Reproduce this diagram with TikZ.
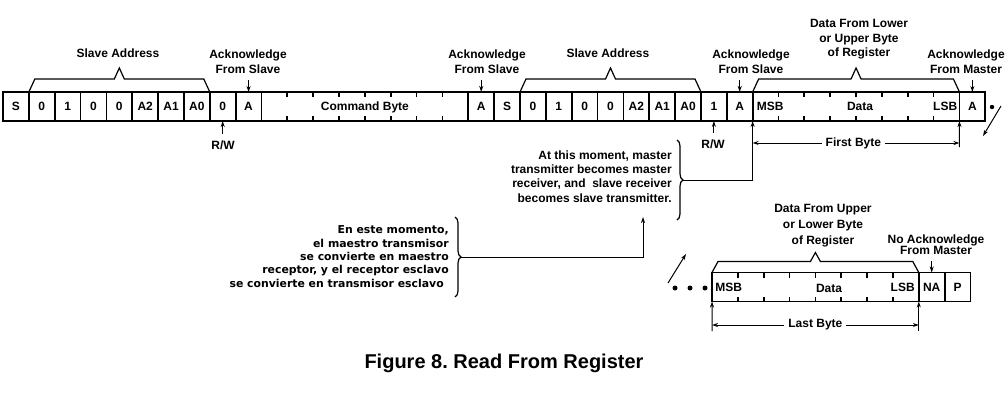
\documentclass[tikz,border=0pt]{standalone}
\usepackage{fontspec}
\setmainfont{Liberation Sans}
\newfontfamily\esfont{DejaVu Sans}
\usetikzlibrary{arrows.meta,decorations.pathreplacing}
\frenchspacing
\newcommand\capbrace[5]{%
  \draw[brc] (#1,#3) -- ({#1+6},{#3-#4}) -- ({(#1+#2)/2-5},{#3-#4}) -- ({(#1+#2)/2},{#3-#5}) -- ({(#1+#2)/2+5},{#3-#4}) -- ({#2-6},{#3-#4}) -- (#2,#3);}
\begin{document}
\begin{tikzpicture}[x=0.75pt,y=-0.75pt,
  every node/.style={font=\bfseries\fontsize{9}{11.25}\selectfont, inner sep=0pt},
  cell/.style={draw, line width=1.3pt, outer sep=0pt, minimum width=19.3875pt, minimum height=21.75pt, text height=6.44pt, text depth=0pt},
  wide/.style={cell, minimum width=155.1pt},
  captext/.style={text height=6.44pt, text depth=0pt},
  tick/.style={line width=1.3pt},
  brc/.style={line width=0.9pt},
  lbl/.style={align=center, outer sep=5pt},
  arr/.style={line width=0.75pt, -{Stealth[length=4.5pt,width=3pt]}},
  dim/.style={line width=0.75pt, {Stealth[length=4.5pt,width=3pt]}-{Stealth[length=4.5pt,width=3pt]}},
]
\fill[white] (0,0) rectangle (1007,397);
\useasboundingbox (0,0) rectangle (1007,397);

% top row
\foreach \k/\t in {0/S,1/0,2/1,3/0,4/0,5/A2,6/A1,7/A0,8/0,9/A,18/A,19/S,20/0,21/1,22/0,23/0,24/A2,25/A1,26/A0,27/1,28/A,37/A}
  \node[cell] (t\k) at ({3+25.85*(\k+0.5)},106.5) {\t};
\node[wide] (cmd) at ({3+25.85*14},106.5) {Command Byte};
\node[wide] (dat) at ({3+25.85*33},106.5) {};
\node[captext, anchor=west] (msb1) at (756.5,106.5) {MSB};
\node[captext] (data1) at (860,106.5) {Data};
\node[captext, anchor=east] (lsb1) at (957.5,106.5) {LSB};

% bottom row
\node[wide] (ldat) at (815.4,287) {};
\node[cell] (na) at (931.7,287) {NA};
\node[cell] (pp) at (957.6,287) {P};
\node[captext, anchor=west] (msb2) at (715,287) {MSB};
\node[captext] (data2) at (829,288) {Data};
\node[captext, anchor=east] (lsb2) at (915,287) {LSB};

% ticks
\foreach \b in {cmd,dat,ldat}
  \foreach \i in {1,...,7} {
    \draw[tick] ([xshift=\i*19.3875pt]\b.north west) -- ++(0,5);
    \draw[tick] ([xshift=\i*19.3875pt]\b.south west) -- ++(0,-5);
  }

% braces over fields
\capbrace{28.85}{209.8}{92}{13}{24}
\capbrace{520}{701}{92}{13}{24}
\capbrace{752.65}{959.45}{92}{13}{24}
\capbrace{712}{918.8}{272.5}{11}{20}

% labels
\node (sa1) at (118,53) {Slave Address};
\node (sa2) at (608,53) {Slave Address};
\node[lbl] (ack1) at (248,61.5) {Acknowledge\\From Slave};
\node[lbl] (ack2) at (487,61.5) {Acknowledge\\From Slave};
\node[lbl] (ack3) at (751,61.5) {Acknowledge\\From Slave};
\node[lbl] (ackm) at (966,61.5) {Acknowledge\\From Master};
\node[align=center, font=\bfseries\fontsize{9}{10.9}\selectfont] (dfl) at (859,39.5) {Data From Lower\\or Upper Byte\\of Register};
\node[align=center, font=\bfseries\fontsize{9}{12}\selectfont] (dfu) at (823,226) {Data From Upper\\or Lower Byte\\of Register};
\node[lbl, font=\bfseries\fontsize{9}{8.25}\selectfont] (nack) at (936,244.5) {No Acknowledge\\From Master};
\node[lbl] (rw1) at (223,145) {R/W};
\node[lbl] (rw2) at (713,144) {R/W};

\draw[arr] (ack1.south -| t9.north) -- (t9.north);
\draw[arr] (ack2.south -| t18.north) -- (t18.north);
\draw[arr] (ack3.south -| t28.north) -- (t28.north);
\draw[arr] (ackm.south -| t37.north) -- (t37.north);
\draw[arr] (nack.south -| na.north) -- (na.north);
\draw[arr] (rw1.north -| t8.south) -- (t8.south);
\draw[arr] (rw2.north -| t27.south) -- (t27.south);

% explanatory texts
\node[anchor=east, align=right, font=\bfseries\fontsize{9}{10.75}\selectfont] (en) at (672,176.5)
  {At this moment, master\\transmitter becomes master\\receiver, and\ \ slave receiver\\becomes slave transmitter.};
\node[anchor=east, align=right, font=\esfont\bfseries\fontsize{8.15}{10}\selectfont] (es) at (449,256.5)
  {En este momento,\\el maestro transmisor\hspace*{3.75pt}\\se convierte en maestro\hspace*{3.75pt}\\receptor, y el receptor esclavo\hspace*{3.75pt}\\se convierte en transmisor esclavo\hspace*{3.75pt}};
\draw[brc, decorate, decoration={brace, amplitude=4.5pt}] (677,140) -- (677,220);
\draw[brc, decorate, decoration={brace, amplitude=4.5pt}] (455,217) -- (455,297);
\coordinate (enb) at (683,180);
\coordinate (esb) at (461,257);
\coordinate (ent) at (643,217);
\draw[arr] (enb) -| (dat.south west);
\draw[arr] (esb) -| (ent);

% byte dimensions
\coordinate (fbL) at (752.65,143);
\coordinate (fbR) at (959.45,143);
\coordinate (fbV) at (959.45,147);
\draw[arr] (fbV) -- (dat.south east);
\draw[dim] (fbL) -- (fbR) node[pos=0.487, fill=white, inner xsep=3pt, inner ysep=1pt] (fb) {First Byte};
\coordinate (lbL) at (712,325);
\coordinate (lbR) at (918.8,325);
\coordinate (lbV1) at (712,331);
\coordinate (lbV2) at (918.8,331);
\draw[arr] (lbV1) -- (ldat.south west);
\draw[arr] (lbV2) -- (ldat.south east);
\draw[dim] (lbL) -- (lbR) node[pos=0.5, fill=white, inner xsep=3pt, inner ysep=1pt] (lb) {Last Byte};

% continuation marks
\fill (992,107) circle (2.2);
\coordinate (c1a) at (1001,106);
\coordinate (c1b) at (983,136);
\draw[arr] (c1a) -- (c1b);
\foreach \x in {675,690,705} \fill (\x,288) circle (2.5);
\coordinate (c2a) at (668,283);
\coordinate (c2b) at (686,254);
\draw[arr] (c2a) -- (c2b);

% title
\node[font=\bfseries\fontsize{15}{18}\selectfont] (title) at (504,363) {Figure 8. Read From Register};
\end{tikzpicture}
\end{document}
